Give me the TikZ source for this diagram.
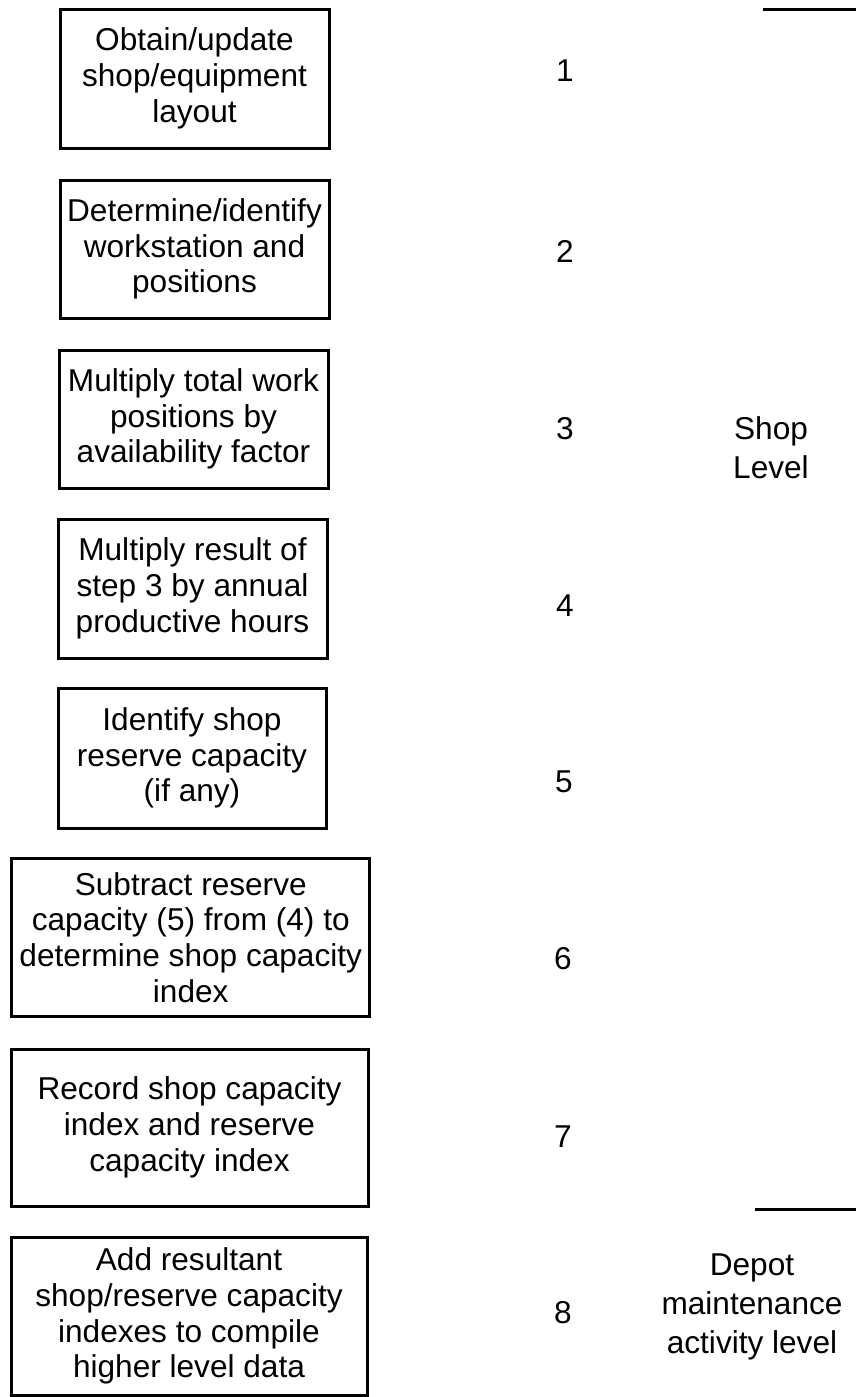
\documentclass[tikz,border=0pt]{standalone}
\usepackage{fontspec}
\setmainfont{Liberation Sans}
\usepackage{tikz}

\tikzset{
    procbox/.style={draw, line width=1.5pt, align=center, inner sep=0pt,
        font=\fontsize{15.8}{17.9}\selectfont},
    stepnum/.style={font=\fontsize{15.8}{17.8}\selectfont},
    levellabel/.style={align=center, font=\fontsize{15.8}{19.5}\selectfont}
}

\begin{document}
\begin{tikzpicture}[x=0.5pt, y=-0.5pt]
    \useasboundingbox (0, 0) rectangle (856, 1397);
    % Boxes
    \node [procbox, minimum width=134.5pt, minimum height=69.5pt] (box1) at (194.5, 78.5)
        {Obtain/update\\shop/equipment\\layout};
    \node [procbox, minimum width=134.5pt, minimum height=69pt] (box2) at (194.5, 249)
        {Determine/identify\\workstation and\\positions};
    \node [procbox, minimum width=134.5pt, minimum height=69pt] (box3) at (193.5, 419)
        {Multiply total work\\positions by\\availability factor};
    \node [procbox, minimum width=134.5pt, minimum height=69.5pt] (box4) at (192.5, 588.5)
        {Multiply result of\\step 3 by annual\\productive hours};
    \node [procbox, minimum width=134pt, minimum height=70pt] (box5) at (192, 758)
        {Identify shop\\reserve capacity\\(if any)};
    \node [procbox, minimum width=179pt, minimum height=79pt] (box6) at (190.75, 937.5)
        {Subtract reserve\\capacity (5) from (4) to\\determine shop capacity\\index};
    \node [procbox, minimum width=178.5pt, minimum height=78.5pt] (box7) at (189.5, 1127.5)
        {Record shop capacity\\index and reserve\\capacity index};
    \node [procbox, minimum width=178pt, minimum height=79pt] (box8) at (189, 1316)
        {Add resultant\\shop/reserve capacity\\indexes to compile\\higher level data};
    % Step numbers
    \node [stepnum] (num1) at (565, 71) {1};
    \node [stepnum] (num2) at (565, 251) {2};
    \node [stepnum] (num3) at (565, 429) {3};
    \node [stepnum] (num4) at (565, 606) {4};
    \node [stepnum] (num5) at (564, 782) {5};
    \node [stepnum] (num6) at (563, 959) {6};
    \node [stepnum] (num7) at (563, 1137) {7};
    \node [stepnum] (num8) at (563, 1313) {8};
    % Levels
    \node [levellabel] (shoplvl) at (771, 448) {Shop\\Level};
    \node [levellabel] (depotlvl) at (752, 1307) {Depot\\maintenance\\activity level};
    % Separators
    \coordinate (topA) at (763, 9);
    \coordinate (topB) at (856, 9);
    \coordinate (midA) at (755, 1209);
    \coordinate (midB) at (856, 1209);
    \draw [line width=1.5pt] (topA) -- (topB);
    \draw [line width=1.5pt] (midA) -- (midB);
\end{tikzpicture}
\end{document}
